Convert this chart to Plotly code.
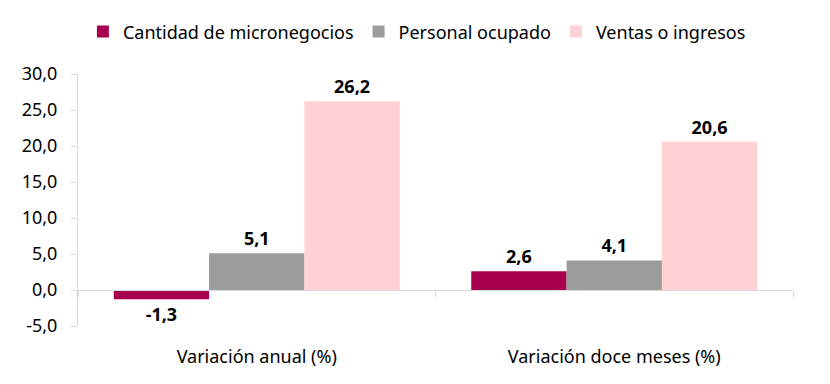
import plotly.graph_objects as go

categories = ["Variación anual (%)", "Variación doce meses (%)"]
series_names = ["Cantidad de micronegocios", "Personal ocupado", "Ventas o ingresos"]
micronegocios = [-1.3, 2.6]
personal = [5.1, 4.1]
ventas = [26.2, 20.6]
y_ticks = [-5, 0, 5, 10, 15, 20, 25, 30]

colors = ["#A6004F", "#9C9C9C", "#FFD1D5"]
FONT = "Noto Sans"

def fmt(v):
    return f"{v:.1f}".replace(".", ",")

fig = go.Figure()
for name, vals, col in zip(series_names, [micronegocios, personal, ventas], colors):
    fig.add_trace(go.Bar(
        x=categories, y=vals, name=name, marker=dict(color=col, line=dict(width=0)),
        text=[f"<b>{fmt(v)}</b>" for v in vals], textposition="outside",
        textfont=dict(family=FONT, size=18, color="#000000"), cliponaxis=False,
    ))

fig.update_layout(
    width=830, height=384,
    margin=dict(l=70, r=45, t=66, b=66, autoexpand=False),
    plot_bgcolor="white", paper_bgcolor="white",
    barmode="group", bargap=0.2, bargroupgap=0,
    font=dict(family=FONT, size=18, color="#000000"),
    legend=dict(orientation="h", x=0.474, xanchor="center", y=1.167, yanchor="middle",
                font=dict(size=18), itemwidth=30, tracegroupgap=0),
    showlegend=True,
)
fig.update_yaxes(
    range=[-5, 30], tickvals=y_ticks, ticktext=[fmt(v) for v in y_ticks],
    showgrid=False, zeroline=False, showline=True, linecolor="#D9D9D9", linewidth=1,
    ticks="outside", ticklen=6, tickcolor="#D9D9D9", ticklabelstandoff=10,
    tickfont=dict(size=18), automargin=False,
)
fig.update_xaxes(
    anchor="free", position=5/35, showline=True, linecolor="#D9D9D9", linewidth=1,
    ticks="outside", tickson="boundaries", ticklen=6, tickcolor="#D9D9D9",
    showgrid=False, ticklabelstandoff=50, tickfont=dict(size=18), automargin=False,
)

fig.write_html("out.html")
